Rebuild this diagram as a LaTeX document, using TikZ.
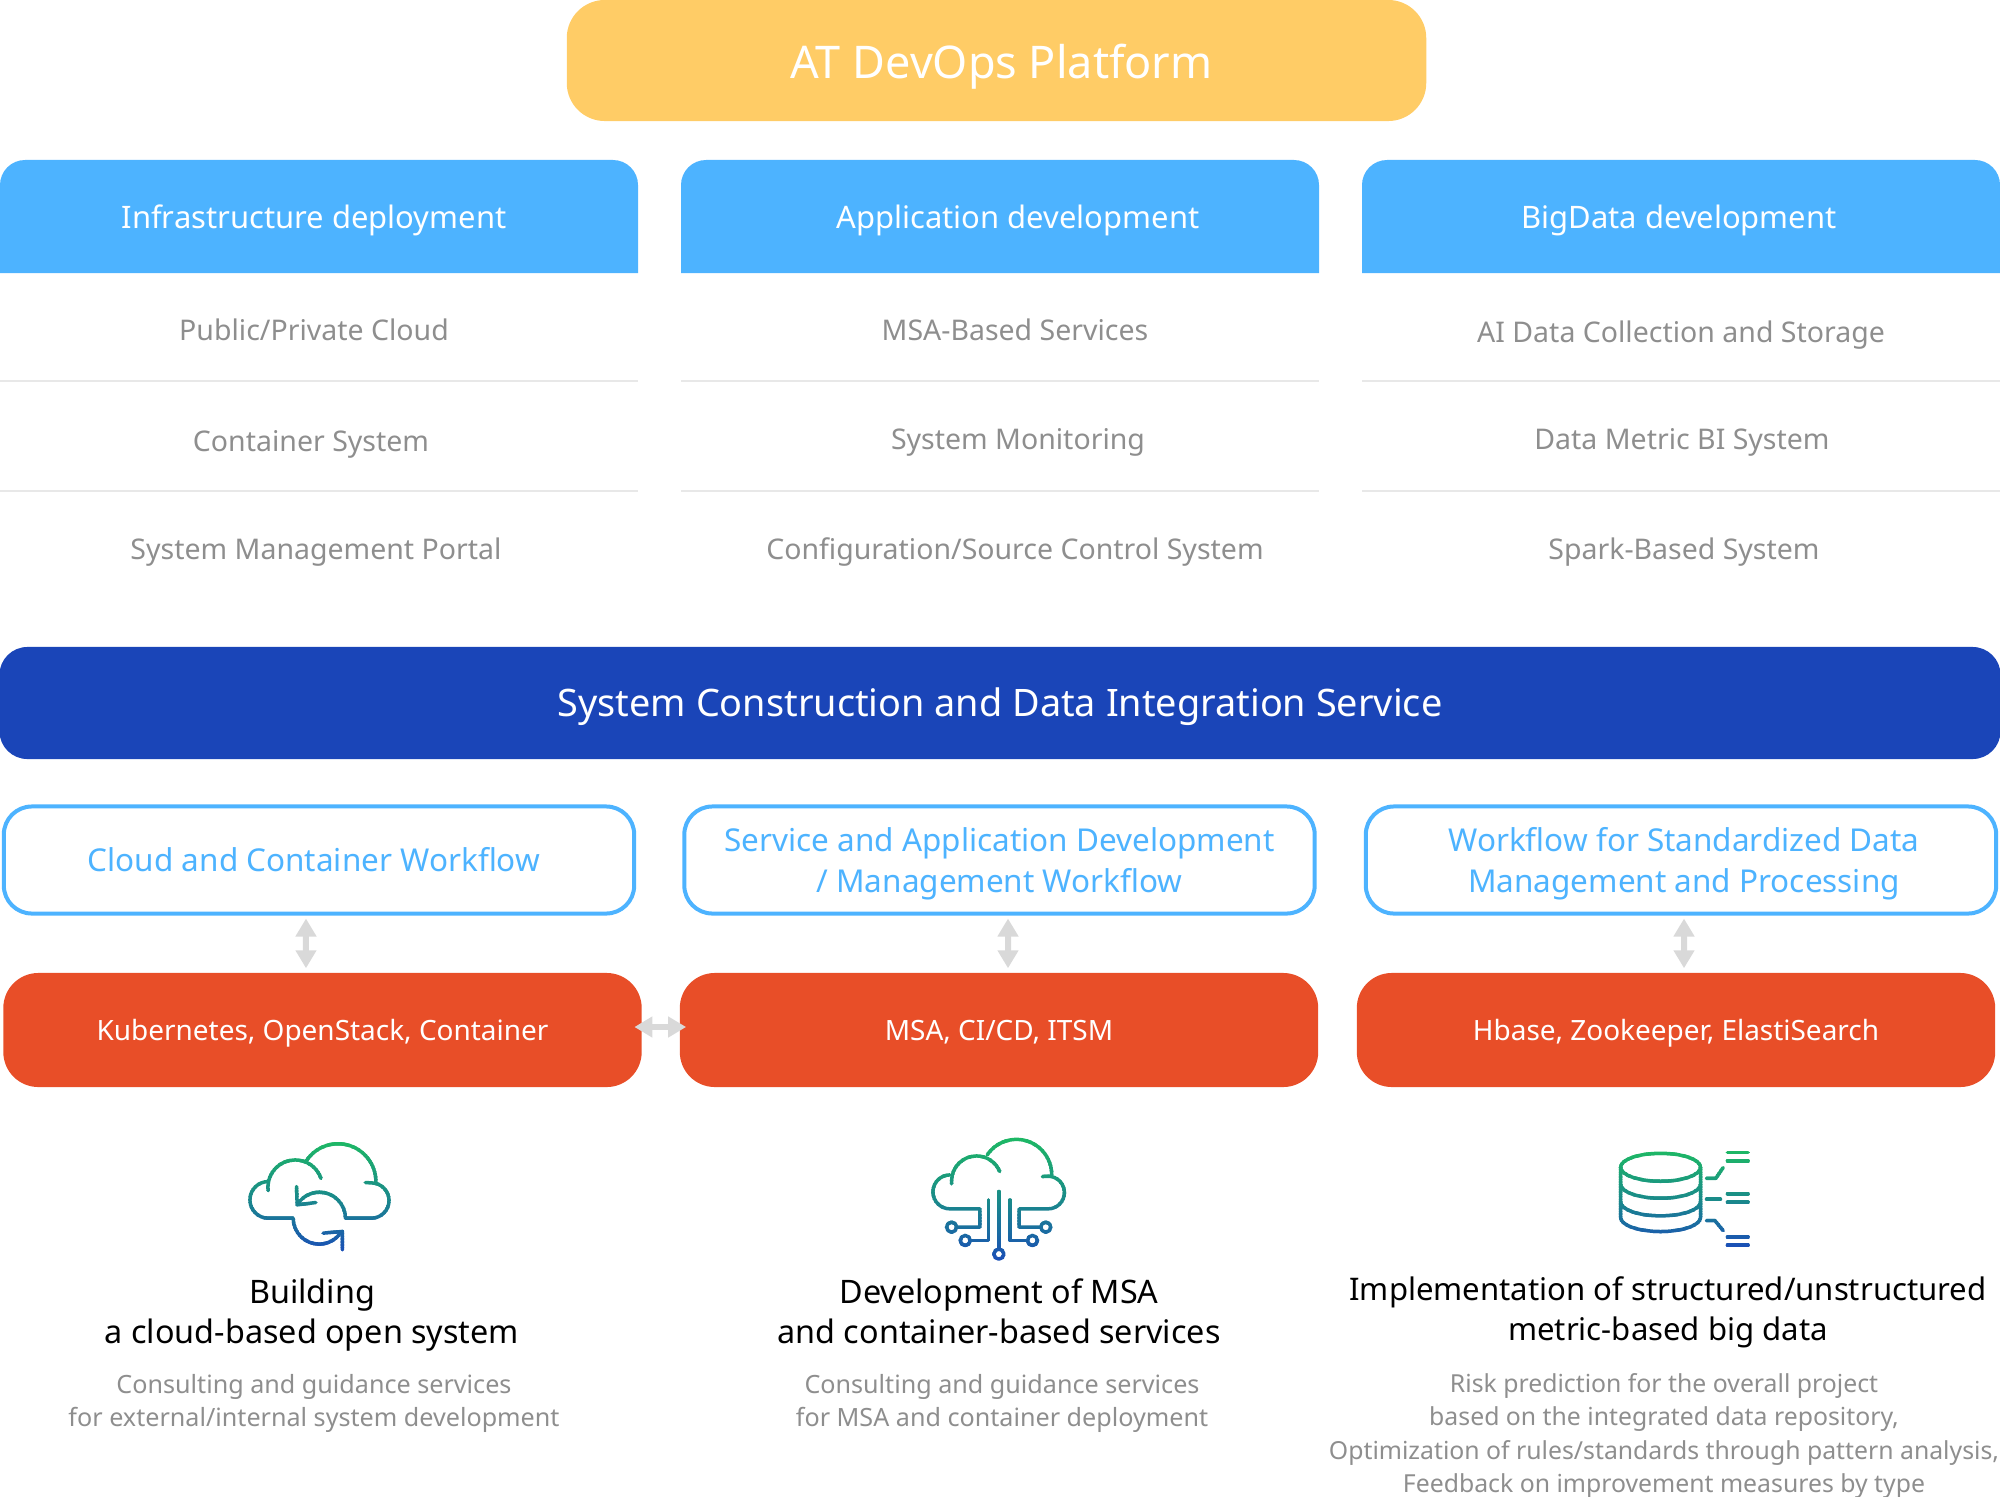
\documentclass[tikz,border=0pt]{standalone}
\usepackage{fontspec}
\setmainfont{Noto Sans}
\usetikzlibrary{arrows.meta}
\definecolor{platformcol}{HTML}{FFCC66}
\definecolor{headcol}{HTML}{4DB3FF}
\definecolor{navycol}{HTML}{1A45B8}
\definecolor{redcol}{HTML}{E84E28}
\definecolor{greycol}{HTML}{8E8E8E}
\definecolor{sepcol}{HTML}{E8E8E8}
\definecolor{arrowcol}{HTML}{D9D9D9}
\definecolor{icontop}{HTML}{1DB864}
\definecolor{iconmid}{HTML}{1A8A8A}
\definecolor{iconbot}{HTML}{1A4DB8}
\tikzset{
	head/.style={text=white,font=\fontsize{8.8}{10}\selectfont},
	item/.style={text=greycol,font=\fontsize{8.1}{10}\selectfont},
	sepline/.style={draw=sepcol,line width=.02cm},
	platform/.style={fill=platformcol,rounded corners=.38cm,minimum width=8.59cm,minimum height=1.21cm,
		text=white,font=\fontsize{12.8}{15}\selectfont},
	bar/.style={fill=navycol,rounded corners=.28cm,minimum width=20cm,minimum height=1.12cm,
		text=white,font=\fontsize{10.76}{14}\selectfont},
	flow/.style={draw=headcol,fill=white,line width=.04cm,rounded corners=.28cm,minimum width=6.3cm,minimum height=1.07cm,
		text=headcol,align=center,inner sep=0pt,font=\fontsize{8.95}{11.5}\selectfont},
	tool/.style={fill=redcol,rounded corners=.35cm,minimum width=6.38cm,minimum height=1.14cm,
		text=white,font=\fontsize{7.95}{10}\selectfont},
	title/.style={align=center,text=black,font=\fontsize{9.2}{11.3}\selectfont},
	note/.style={align=center,text=greycol,font=\fontsize{7.15}{9.4}\selectfont},
	twoway/.style={draw=arrowcol,line width=.06cm,{Triangle[width=.2cm,length=.18cm]}-{Triangle[width=.2cm,length=.18cm]}},
	iconline/.style={line width=.035cm,line cap=round,line join=round},
}
% moves the text inside its box, the box itself stays
\newcommand{\nudge}[3]{\hspace*{#1}\raisebox{#2}[\height][\depth]{\begin{tabular}{@{}c@{}}#3\end{tabular}}}
% icon drawn in horizontal bands, so that its colour runs green to blue
\newcommand{\gradicon}[3]{%
	\foreach \band in {0,...,39}{%
		\pgfmathtruncatemacro\mixval{\band<20 ? 100-5*\band : 200-5*\band}
		\ifnum\band<20 \colorlet{bandcol}{icontop!\mixval!iconmid}\else \colorlet{bandcol}{iconmid!\mixval!iconbot}\fi
		\begin{scope}[bandcol]
			\clip (0,{#1+\band*(#2-#1)/40}) rectangle (700,{#1+(\band+1.15)*(#2-#1)/40});
			#3
		\end{scope}
	}%
}
\newcommand{\cloudicon}{%
	\draw[iconline] (205,242) -- (204,232) arc[start angle=-180,end angle=-19,radius=82];
	\draw[iconline] (318,155) arc[start angle=-148,end angle=0,radius=114];
	\draw[iconline] (205,215) arc[start angle=-90,end angle=-270,radius=55] -- (280,325) arc[start angle=180,end angle=30,radius=78];
	\draw[iconline] (370,370) -- (428,365) -- (428,420);
	\draw[iconline] (497,218) -- (515,219) arc[start angle=-90,end angle=90,radius=53] -- (437,325) arc[start angle=0,end angle=-146,radius=78];
	\draw[iconline] (290,230) -- (292,285) -- (348,278);
}
\newcommand{\circuiticon}{%
	\draw[iconline] (155,222) -- (155,213) arc[start angle=-180,end angle=-22,radius=75];
	\draw[iconline] (262,135) arc[start angle=-146,end angle=0,radius=106];
	\draw[iconline] (150,195) arc[start angle=-90,end angle=-270,radius=51] -- (240,297) -- (240,352) -- (170,352);
	\draw[iconline] (428,200) -- (445,199) arc[start angle=-90,end angle=90,radius=49] -- (358,297) -- (358,352) -- (423,352);
	\draw[iconline] (266,270) -- (266,392) -- (212,392);
	\draw[iconline] (330,270) -- (330,392) -- (383,392);
	\draw[iconline] (297,245) -- (297,418);
	\draw[iconline] (155,352) circle[radius=15] (438,352) circle[radius=15] (196,392) circle[radius=15] (398,392) circle[radius=15] (297,433) circle[radius=15];
}
\newcommand{\dataicon}{%
	\draw[iconline] (212,112) ellipse[x radius=120,y radius=42];
	\draw[iconline] (92,112) -- (92,263) arc[start angle=180,end angle=0,x radius=120,y radius=42] -- (332,112);
	\draw[iconline] (92,163) arc[start angle=180,end angle=0,x radius=120,y radius=42];
	\draw[iconline] (92,216) arc[start angle=180,end angle=0,x radius=120,y radius=42];
	\draw[iconline] (350,145) -- (378,145) -- (400,113);
	\draw[iconline] (350,208) -- (392,208);
	\draw[iconline] (350,272) -- (375,272) -- (400,302);
	\foreach \ybar in {68,93,192,217,322,346}{\draw[iconline] (413,\ybar) -- (475,\ybar);}
}
\begin{document}
\begin{tikzpicture}[x=.01cm,y=-.01cm]
	\useasboundingbox (0,0) rectangle (2000,1497);
	\node[platform] (platform) at (996.5,60.5) {\nudge{.1cm}{-.07cm}{AT DevOps Platform}};
	% column heads
	\foreach \xa/\xb in {0/638,681/1319,1362/2000}{
		\fill[headcol] (\xa,273) [rounded corners=.25cm] -- (\xa,160) -- (\xb,160) [sharp corners] -- (\xb,273) -- cycle;
		\draw[sepline] (\xa,381) -- (\xb,381);
		\draw[sepline] (\xa,491) -- (\xb,491);
	}
	\node[head] (infrahead) at (314,220) {Infrastructure deployment};
	\node[head] (apphead) at (1018,220) {Application development};
	\node[head] (bighead) at (1679,220) {BigData development};
	\node[item] (infraa) at (314,330) {Public/Private Cloud};
	\node[item] (infrab) at (311,444) {Container System};
	\node[item] (infrac) at (316,552) {System Management Portal};
	\node[item] (appa) at (1015,330) {MSA-Based Services};
	\node[item] (appb) at (1018,442) {System Monitoring};
	\node[item] (appc) at (1015,552) {Configuration/Source Control System};
	\node[item] (biga) at (1681,335) {AI Data Collection and Storage};
	\node[item] (bigb) at (1682,442) {Data Metric BI System};
	\node[item] (bigc) at (1684,552) {Spark-Based System};
	\node[bar] (integration) at (1000,703) {\nudge{0cm}{-.04cm}{System Construction and Data Integration Service}};
	% workflows and tools
	\node[flow] (cloudflow) at (319,860) {\nudge{-.1cm}{-.035cm}{Cloud and Container Workflow}};
	\node[flow] (msaflow) at (999.5,860) {\nudge{0cm}{-.04cm}{Service and Application Development\\/ Management Workflow}};
	\node[flow] (bigflow) at (1681,860) {\nudge{.06cm}{-.04cm}{Workflow for Standardized Data\\Management and Processing}};
	\node[tool] (kuber) at (322.5,1030) {\nudge{0cm}{-.035cm}{Kubernetes, OpenStack, Container}};
	\node[tool] (msatool) at (999,1030) {\nudge{0cm}{-.03cm}{MSA, CI/CD, ITSM}};
	\node[tool] (hbase) at (1676,1030) {\nudge{0cm}{-.035cm}{Hbase, Zookeeper, ElastiSearch}};
	\draw[twoway,shorten <=.03cm,shorten >=.04cm] ([xshift=-.13cm]cloudflow.south) -- ([xshift=-.165cm]kuber.north);
	\draw[twoway,shorten <=.03cm,shorten >=.04cm] ([xshift=.085cm]msaflow.south) -- ([xshift=.09cm]msatool.north);
	\draw[twoway,shorten <=.03cm,shorten >=.04cm] ([xshift=.03cm]bigflow.south) -- ([xshift=.08cm]hbase.north);
	\draw[twoway,shorten <=-.08cm,shorten >=-.07cm] ([yshift=.03cm]kuber.east) -- ([yshift=.03cm]msatool.west);
	% icons
	\begin{scope}[shift={(200,1110)},x=.0033333cm,y=-.0033333cm]
		\gradicon{90}{430}{\cloudicon}
	\end{scope}
	\begin{scope}[shift={(900,1110)},x=.0033333cm,y=-.0033333cm]
		\gradicon{80}{455}{\circuiticon}
	\end{scope}
	\begin{scope}[shift={(1590,1130)},x=.0033333cm,y=-.0033333cm]
		\gradicon{60}{355}{\dataicon}
	\end{scope}
	% bottom texts
	\node[title] (cloudtitle) at (312,1315) {Building\\a cloud-based open system};
	\node[title] (msatitle) at (999,1311) {Development of MSA\\and container-based services};
	\node[title,font=\fontsize{8.85}{11.3}\selectfont] (bigtitle) at (1668,1312) {Implementation of structured/unstructured\\metric-based big data};
	\node[note] (cloudnote) at (314,1403) {Consulting and guidance services\\for external/internal system development};
	\node[note] (msanote) at (1002,1403) {Consulting and guidance services\\for MSA and container deployment};
	\node[note,font=\fontsize{7.05}{9.4}\selectfont] (bignote) at (1664,1436) {Risk prediction for the overall project\\based on the integrated data repository,\\Optimization of rules/standards through pattern analysis,\\Feedback on improvement measures by type};
\end{tikzpicture}
\end{document}
